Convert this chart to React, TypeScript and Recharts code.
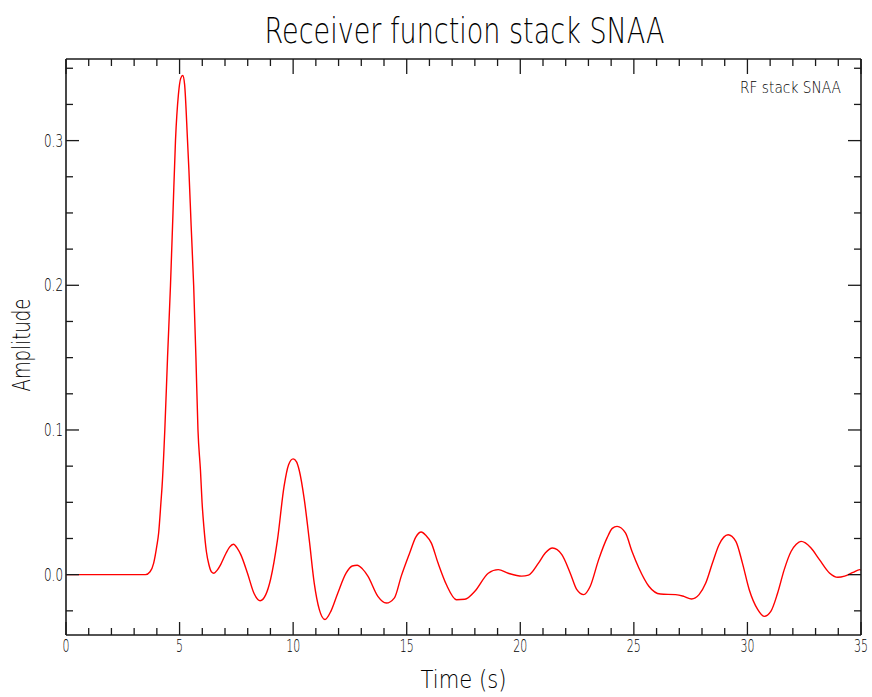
import React from 'react';
import { LineChart, Line, XAxis, YAxis, Label, Legend } from 'recharts';

const timeS = [
  0, 3.5, 3.7, 3.86, 4.0, 4.08, 4.18, 4.23, 4.35, 4.47, 4.6, 4.71, 4.82, 4.95, 5.05, 5.14,
  5.22, 5.35, 5.41, 5.51, 5.62, 5.72, 5.81, 5.92, 5.99, 6.07, 6.18, 6.29, 6.4, 6.51, 6.65,
  6.81, 7.05, 7.2, 7.37, 7.55, 7.69, 7.99, 8.28, 8.55, 8.79, 9.01, 9.31, 9.6, 9.8, 10.0,
  10.15, 10.27, 10.49, 10.71, 10.93, 11.15, 11.4, 11.67, 11.96, 12.33, 12.6, 12.82, 13.05,
  13.29, 13.73, 14.1, 14.46, 14.76, 15.13, 15.4, 15.64, 15.85, 16.08, 16.38, 16.75, 17.19,
  17.56, 18.0, 18.59, 19.03, 19.47, 20.06, 20.36, 20.8, 21.1, 21.42, 21.83, 22.2, 22.49,
  22.79, 23.08, 23.45, 23.82, 24.05, 24.26, 24.63, 24.92, 25.22, 25.66, 26.17, 26.84,
  27.2, 27.54, 27.87, 28.16, 28.46, 28.75, 29.15, 29.49, 29.78, 30.08, 30.45, 30.74, 31.03,
  31.33, 31.62, 31.92, 32.15, 32.36, 32.55, 32.8, 33.17, 33.61, 33.98, 34.28, 34.65, 34.95, 35.0,
];

const amplitude = [
  0, 0, 0.002, 0.008, 0.02, 0.029, 0.05, 0.061, 0.1, 0.15, 0.2, 0.25, 0.3, 0.332, 0.343, 0.345,
  0.339, 0.3, 0.28, 0.241, 0.2, 0.15, 0.1, 0.072, 0.05, 0.033, 0.016, 0.007, 0.002, 0.001, 0.003,
  0.007, 0.015, 0.019, 0.021, 0.018, 0.014, 0.001, -0.013, -0.018, -0.014, -0.003, 0.024, 0.061, 0.076, 0.08,
  0.078, 0.072, 0.052, 0.024, -0.006, -0.024, -0.031, -0.025, -0.013, 0.001, 0.006, 0.0065, 0.004,
  -0.001, -0.015, -0.0196, -0.016, -0.001, 0.015, 0.026, 0.0295, 0.027, 0.022, 0.008, -0.007, -0.0173,
  -0.017, -0.0115, 0.001, 0.0035, 0.001, -0.001, -0.0003, 0.008, 0.015, 0.0184, 0.0138, 0.001, -0.0104,
  -0.0138, -0.008, 0.0104, 0.0254, 0.032, 0.0334, 0.0288, 0.016, 0.0046, -0.008, -0.0134, -0.0138,
  -0.015, -0.0168, -0.0138, -0.006, 0.008, 0.0207, 0.0276, 0.023, 0.008, -0.0104, -0.024, -0.0288, -0.0254,
  -0.0127, 0.0035, 0.016, 0.021, 0.023, 0.022, 0.0184, 0.0104, 0.0012, -0.0018, -0.001, 0.0016, 0.0035, 0.003,
];

const xTicks = [0, 1, 2, 3, 4, 5, 6, 7, 8, 9, 10, 11, 12, 13, 14, 15, 16, 17, 18, 19, 20, 21, 22, 23, 24, 25, 26, 27, 28, 29, 30, 31, 32, 33, 34, 35];
const xMajorStep = 5;
const yTicks = [-0.025, 0, 0.025, 0.05, 0.075, 0.1, 0.125, 0.15, 0.175, 0.2, 0.225, 0.25, 0.275, 0.3, 0.325, 0.35];
const yMajorStep = 0.1;
const xDomain = [0, 35];
const yDomain = [-0.0417, 0.3564];

const titleText = 'Receiver function stack SNAA';
const seriesName = 'RF stack SNAA';
const xLabel = 'Time (s)';
const yLabel = 'Amplitude';

const data = timeS.map((t, i) => ({ t, amp: amplitude[i] }));

const INK = '#1a1a1a';
const TXT = '#000';
const FONT = '"DejaVu Sans", sans-serif';
const W = 200;
const MAJ = 13;
const MIN = 7;

const isMajor = (v: number, step: number) => Math.abs(v / step - Math.round(v / step)) < 1e-6;

const LeftTick = (p: any) => {
  const v = p.payload.value;
  const m = isMajor(v, yMajorStep);
  return (
    <g>
      <line x1={p.x} x2={p.x + (m ? MAJ : MIN)} y1={p.y} y2={p.y} stroke={INK} strokeWidth={1.3} />
      {m && (
        <text x={p.x - 3} y={p.y + 6} textAnchor="end" textLength={19} lengthAdjust="spacingAndGlyphs" fontFamily={FONT} fontWeight={W} fontSize={17} fill={TXT}>
          {v.toFixed(1)}
        </text>
      )}
    </g>
  );
};

const RightTick = (p: any) => {
  const v = p.payload.value;
  const m = isMajor(v, yMajorStep);
  return <line x1={p.x} x2={p.x - (m ? MAJ : MIN)} y1={p.y} y2={p.y} stroke={INK} strokeWidth={1.3} />;
};

const BottomTick = (p: any) => {
  const v = p.payload.value;
  const m = isMajor(v, xMajorStep);
  const s = String(v);
  return (
    <g>
      <line x1={p.x} x2={p.x} y1={p.y} y2={p.y - (m ? MAJ : MIN)} stroke={INK} strokeWidth={1.3} />
      {m && (
        <text x={p.x} y={p.y + 17} textAnchor="middle" textLength={s.length * 7} lengthAdjust="spacingAndGlyphs" fontFamily={FONT} fontWeight={W} fontSize={17} fill={TXT}>
          {s}
        </text>
      )}
    </g>
  );
};

const TopTick = (p: any) => {
  const v = p.payload.value;
  const m = isMajor(v, xMajorStep);
  return <line x1={p.x} x2={p.x} y1={p.y} y2={p.y + (m ? 15 : MIN)} stroke={INK} strokeWidth={1.3} />;
};

const LegendBox = () => (
  <svg width={112} height={22}>
    <text x={1} y={15} textLength={101} lengthAdjust="spacingAndGlyphs" fontFamily={FONT} fontWeight={W} fontSize={15} fill={TXT}>
      {seriesName}
    </text>
  </svg>
);

export default function App() {
  return (
    <div style={{ position: 'absolute', left: 0, top: 0, width: 872, height: 697, background: '#fff' }}>
      <LineChart width={872} height={697} data={data} margin={{ top: 29, right: 1, bottom: 22, left: 10 }}>
        <XAxis
          dataKey="t"
          type="number"
          domain={xDomain}
          ticks={xTicks}
          interval={0}
          allowDataOverflow
          height={40}
          tickSize={0}
          tickMargin={0}
          tick={<BottomTick />}
          axisLine={{ stroke: INK, strokeWidth: 1.6 }}
        >
          <Label
            content={(props: any) => {
              const vb = props.viewBox;
              return (
                <text x={vb.x + vb.width / 2} y={vb.y + 53} textAnchor="middle" textLength={86} lengthAdjust="spacingAndGlyphs" fontFamily={FONT} fontWeight={W} fontSize={25} fill={TXT}>
                  {xLabel}
                </text>
              );
            }}
          />
        </XAxis>
        <XAxis
          xAxisId="top"
          orientation="top"
          dataKey="t"
          type="number"
          domain={xDomain}
          ticks={xTicks}
          interval={0}
          allowDataOverflow
          height={30}
          tickSize={0}
          tickMargin={0}
          tick={<TopTick />}
          axisLine={{ stroke: INK, strokeWidth: 1.6 }}
        >
          <Label
            content={(props: any) => {
              const vb = props.viewBox;
              return (
                <text x={vb.x + vb.width / 2 + 1} y={vb.y + vb.height - 16} textAnchor="middle" textLength={400} lengthAdjust="spacingAndGlyphs" fontFamily={FONT} fontWeight={W} fontSize={36} fill={TXT}>
                  {titleText}
                </text>
              );
            }}
          />
        </XAxis>
        <YAxis
          type="number"
          domain={yDomain}
          ticks={yTicks}
          interval={0}
          allowDataOverflow
          width={56}
          tickSize={0}
          tickMargin={0}
          tick={<LeftTick />}
          axisLine={{ stroke: INK, strokeWidth: 1.6 }}
        >
          <Label
            content={(props: any) => {
              const vb = props.viewBox;
              const cx = 22;
              const cy = vb.y + vb.height / 2 - 2;
              return (
                <text x={cx} y={cy} transform={`rotate(-90, ${cx}, ${cy})`} textAnchor="middle" dominantBaseline="central" textLength={93} lengthAdjust="spacingAndGlyphs" fontFamily={FONT} fontWeight={W} fontSize={24} fill={TXT}>
                  {yLabel}
                </text>
              );
            }}
          />
        </YAxis>
        <YAxis
          yAxisId="right"
          orientation="right"
          type="number"
          domain={yDomain}
          ticks={yTicks}
          interval={0}
          allowDataOverflow
          width={10}
          tickSize={0}
          tickMargin={0}
          tick={<RightTick />}
          axisLine={{ stroke: INK, strokeWidth: 1.6 }}
        />
        <Legend
          layout="vertical"
          align="center"
          verticalAlign="middle"
          content={<LegendBox />}
          wrapperStyle={{ position: 'absolute', left: 739, top: 78, width: 112, height: 22 }}
        />
        <Line
          type="monotone"
          dataKey="amp"
          name={seriesName}
          stroke="#ff0000"
          strokeWidth={1.4}
          dot={false}
          isAnimationActive={false}
        />
      </LineChart>
    </div>
  );
}
